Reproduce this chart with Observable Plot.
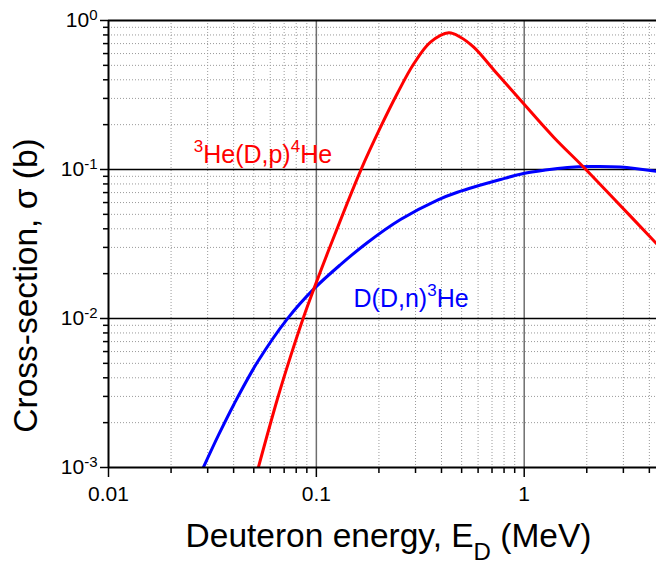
<!DOCTYPE html>
<html><head><meta charset="utf-8">
<script src="https://cdn.jsdelivr.net/npm/d3@7"></script>
<script src="https://cdn.jsdelivr.net/npm/@observablehq/plot@0.6"></script>
<style>body{margin:0;background:#fff} svg{display:block}</style>
</head><body><div id="chart"></div>
<script>
// D(D,n)3He cross-section (barn) vs deuteron energy (MeV)
const ddnE     = [0.0286, 0.0339, 0.0401, 0.052, 0.0725, 0.0973, 0.1307, 0.1763, 0.254, 0.3826, 0.4773, 0.7686, 0.9913, 1.264, 1.613, 2.081, 2.90, 4.35];
const ddnSigma = [0.001, 0.00166, 0.00265, 0.00508, 0.00995, 0.0158, 0.0230, 0.0324, 0.0462, 0.0624, 0.0704, 0.0857, 0.0940, 0.0992, 0.1031, 0.1047, 0.1039, 0.0972];
// 3He(D,p)4He cross-section
const dpE      = [0.0526, 0.0649, 0.0752, 0.0871, 0.0973, 0.1148, 0.1631, 0.2036, 0.2448, 0.2943, 0.354, 0.4335, 0.4935, 0.5716, 0.741, 0.9945, 1.386, 1.932, 2.693, 4.35];
const dpSigma  = [0.001, 0.00287, 0.00559, 0.01036, 0.0158, 0.0289, 0.098, 0.1922, 0.3221, 0.5122, 0.715, 0.827, 0.7724, 0.6619, 0.4387, 0.276, 0.1647, 0.1036, 0.0639, 0.0316];

const xTickValues = [0.01, 0.1, 1];
const xTickLabels = ["0.01", "0.1", "1"];
const yTickValues = [0.001, 0.01, 0.1, 1];
const yTickLabels = ["10^{-3}", "10^{-2}", "10^{-1}", "10^{0}"];
const seriesNames  = ["^{3}He(D,p)^{4}He", "D(D,n)^{3}He"];
const seriesColors = ["#ff0000", "#0000ff"];
const labelE     = [0.0257, 0.151];
const labelSigma = [0.126, 0.01347];
const xTitle = "Deuteron energy, E_{D} (MeV)";
const yTitle = "Cross-section, σ (b)";

const xMax = 4.33;
const minorX = [], minorY = [];
for (const dec of [0.01, 0.1, 1]) for (let k = 2; k <= 9; k++) { const v = +(k * dec).toPrecision(3); if (v <= xMax) minorX.push(v); }
for (const dec of [0.001, 0.01, 0.1]) for (let k = 2; k <= 9; k++) minorY.push(+(k * dec).toPrecision(3));

const ddn = ddnE.map((e, i) => ({E: e, s: ddnSigma[i]}));
const dp  = dpE.map((e, i) => ({E: e, s: dpSigma[i]}));

const labelMarks = seriesNames.map((n, i) => Plot.text([n], {
  x: () => labelE[i], y: () => labelSigma[i], text: d => d,
  fill: seriesColors[i], fontSize: 25, textAnchor: "start", lineAnchor: "middle"
}));

const chart = Plot.plot({
  width: 656, height: 565,
  marginLeft: 108, marginRight: 0, marginTop: 20, marginBottom: 98,
  x: {type: "log", domain: [0.01, xMax]},
  y: {type: "log", domain: [0.001, 1]},
  style: {fontFamily: "'Liberation Sans', Arial, sans-serif", background: "white", color: "black"},
  marks: [
    Plot.ruleX(minorX, {stroke: "#9a9a9a", strokeWidth: 1, strokeDasharray: "1,2"}),
    Plot.ruleY(minorY, {stroke: "#9a9a9a", strokeWidth: 1, strokeDasharray: "1,2"}),
    Plot.ruleX([0.1, 1], {stroke: "#6e6e6e", strokeWidth: 1.5}),
    Plot.ruleY([0.01, 0.1], {stroke: "black", strokeWidth: 1.5}),
    Plot.line(ddn, {x: "E", y: "s", stroke: seriesColors[1], strokeWidth: 3, curve: "catmull-rom", clip: true}),
    Plot.line(dp, {x: "E", y: "s", stroke: seriesColors[0], strokeWidth: 3, curve: "catmull-rom", clip: true}),
    Plot.ruleY([1], {stroke: "black", strokeWidth: 2}),
    Plot.ruleY([0.001], {stroke: "black", strokeWidth: 2}),
    Plot.ruleX([0.01], {stroke: "black", strokeWidth: 2}),
    Plot.axisX(minorX, {tickSize: 6, tickFormat: () => "", label: null, strokeWidth: 1.5, color: "black"}),
    Plot.axisX(xTickValues, {tickSize: 10, tickPadding: 9, fontSize: 21, label: null, strokeWidth: 1.5, color: "black",
      tickFormat: d => xTickLabels[xTickValues.indexOf(d)]}),
    Plot.axisY(minorY, {tickSize: 5, tickFormat: () => "", label: null, strokeWidth: 1.5, color: "black"}),
    Plot.axisY(yTickValues, {tickSize: 8, tickPadding: 3, fontSize: 21, label: null, strokeWidth: 1.5, color: "black",
      tickFormat: d => yTickLabels[yTickValues.indexOf(d)]}),
    ...labelMarks,
    Plot.text([xTitle], {frameAnchor: "bottom", dx: 6, dy: 69, fontSize: 33.5, textAnchor: "middle", lineAnchor: "middle", text: d => d, fill: "black"}),
    Plot.text([yTitle], {frameAnchor: "left", rotate: -90, dx: -82, dy: 41.5, fontSize: 33.5, textAnchor: "middle", lineAnchor: "middle", text: d => d, fill: "black"})
  ]
});
document.getElementById("chart").appendChild(chart);

// rich text: ^{..} superscript, _{..} subscript
function richify(el, size, shift) {
  const str = el.textContent;
  if (!/[\^_]\{/.test(str)) return;
  const parts = [];
  const re = /([\^_])\{([^}]*)\}/g;
  let last = 0, m;
  while ((m = re.exec(str))) {
    if (m.index > last) parts.push({t: str.slice(last, m.index), k: "n"});
    parts.push({t: m[2], k: m[1] === "^" ? "sup" : "sub"});
    last = re.lastIndex;
  }
  if (last < str.length) parts.push({t: str.slice(last), k: "n"});
  el.textContent = "";
  let off = 0;
  const ns = "http://www.w3.org/2000/svg";
  for (const p of parts) {
    const ts = document.createElementNS(ns, "tspan");
    ts.textContent = p.t;
    let target = 0;
    if (p.k === "sup") { target = -shift.sup; ts.setAttribute("font-size", size.sup); }
    if (p.k === "sub") { target = shift.sub; ts.setAttribute("font-size", size.sub); }
    if (target !== off) ts.setAttribute("dy", target - off);
    off = target;
    el.appendChild(ts);
  }
}
chart.querySelectorAll("text").forEach(el => {
  const s = el.textContent;
  if (s.startsWith("10^")) richify(el, {sup: 15}, {sup: 7});
  else if (s.includes("E_{D}")) richify(el, {sub: 24}, {sub: 13});
  else richify(el, {sup: 17}, {sup: 11});
});
</script></body></html>
